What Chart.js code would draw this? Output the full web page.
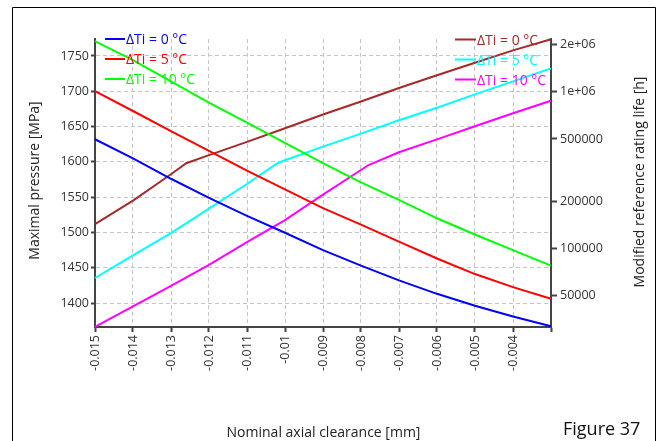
<!DOCTYPE html>
<html>
<head>
<meta charset="utf-8">
<script src="https://cdn.jsdelivr.net/npm/chart.js@4"></script>
<style>
  html, body { margin: 0; padding: 0; background: #fff; }
  #wrap { position: relative; width: 657px; height: 441px; }
</style>
</head>
<body>
<div id="wrap"><canvas id="canvasOne" width="657" height="441"></canvas></div>
<script>
// x values (nominal axial clearance, mm)
const clearance = [-0.015, -0.014, -0.013, -0.012, -0.011, -0.01, -0.009, -0.008, -0.007, -0.006, -0.005, -0.004, -0.003];

// maximal pressure [MPa], left axis
const pressure0 = [1632, 1605, 1576, 1549, 1523.5, 1499.5, 1475, 1453, 1432, 1413, 1396, 1381, 1367];
const pressure5 = [1700, 1672, 1643.5, 1615.5, 1587.5, 1561, 1534.5, 1511, 1487, 1463, 1441, 1422.5, 1406];
const pressure10 = [1771, 1744, 1714, 1684, 1655.5, 1627, 1598, 1571, 1546, 1520, 1497, 1475, 1453];

// modified reference rating life [h], right axis (log)
const life0X = [-0.015, -0.014, -0.013, -0.0126, -0.012, -0.011, -0.01, -0.009, -0.008, -0.007, -0.006, -0.005, -0.004, -0.003];
const life0 = [143000, 202000, 298000, 350000, 394000, 479000, 585000, 716000, 866000, 1057000, 1274000, 1531000, 1837000, 2160000];
const life5X = [-0.015, -0.014, -0.013, -0.012, -0.011, -0.0102, -0.01, -0.009, -0.008, -0.007, -0.006, -0.005, -0.004, -0.003];
const life5 = [64900, 90600, 125400, 179800, 258000, 350000, 365700, 446800, 540600, 657900, 791000, 963000, 1165000, 1409000];
const life10X = [-0.015, -0.014, -0.013, -0.012, -0.011, -0.01, -0.009, -0.008, -0.0078, -0.007, -0.006, -0.005, -0.004, -0.003];
const life10 = [31700, 42800, 57900, 78800, 110000, 152000, 221000, 317000, 341000, 411000, 496700, 602700, 729000, 877000];

const pressureTicks = [1400, 1450, 1500, 1550, 1600, 1650, 1700, 1750];
const lifeTicks = [50000, 100000, 200000, 500000, 1000000, 2000000];

const legendLeft = ['ΔTi = 0 °C', 'ΔTi = 5 °C', 'ΔTi = 10 °C'];
const legendRight = ['ΔTi = 0 °C', 'ΔTi = 5 °C', 'ΔTi = 10 °C'];

function pairs(xs, ys) {
  return xs.map(function(x, i) { return {x: x, y: ys[i]}; });
}

function lineSet(label, xs, ys, color, axis) {
  return {
    label: label,
    data: pairs(xs, ys),
    borderColor: color,
    backgroundColor: color,
    borderWidth: 2,
    pointRadius: 0,
    tension: 0,
    yAxisID: axis,
    clip: false
  };
}

const FONT = "'Open Sans', 'DejaVu Sans', sans-serif";

// titles, legends and the figure frame
const decor = {
  id: 'decor',
  afterDatasetsDraw(chart) {
    const ctx = chart.ctx;
    ctx.save();
    // outer frame
    ctx.strokeStyle = '#000';
    ctx.lineWidth = 1;
    ctx.beginPath();
    ctx.moveTo(12.5, 450);
    ctx.lineTo(12.5, 7.5);
    ctx.lineTo(655.5, 7.5);
    ctx.lineTo(655.5, 450);
    ctx.stroke();

    // legends
    const cols = chart.data.datasets.map(function(d) { return d.borderColor; });
    ctx.font = '14px ' + FONT;
    ctx.textBaseline = 'middle';
    ctx.textAlign = 'left';
    ctx.lineWidth = 2;
    legendLeft.forEach(function(t, i) {
      const y = 39 + i * 20;
      ctx.strokeStyle = cols[i];
      ctx.beginPath(); ctx.moveTo(105, y); ctx.lineTo(125, y); ctx.stroke();
      ctx.fillStyle = cols[i];
      ctx.fillText(t, 126, y + 1.5);
    });
    legendRight.forEach(function(t, i) {
      const y = 39.5 + i * 20;
      ctx.strokeStyle = cols[i + 3];
      ctx.beginPath(); ctx.moveTo(455, y); ctx.lineTo(476, y); ctx.stroke();
      ctx.fillStyle = cols[i + 3];
      ctx.fillText(t, 477, y + 1.5);
    });

    // axis titles
    ctx.fillStyle = '#222';
    ctx.font = '14px ' + FONT;
    ctx.textAlign = 'center';
    ctx.fillText('Nominal axial clearance [mm]', 323.5, 433);

    ctx.save();
    ctx.translate(35, 180.5);
    ctx.rotate(-Math.PI / 2);
    ctx.fillText('Maximal pressure [MPa]', 0, 0);
    ctx.restore();

    ctx.save();
    ctx.translate(640, 182);
    ctx.rotate(-Math.PI / 2);
    ctx.fillText('Modified reference rating life [h]', 0, 0);
    ctx.restore();

    ctx.font = '18px ' + FONT;
    ctx.textAlign = 'left';
    ctx.textBaseline = 'alphabetic';
    ctx.fillStyle = '#111';
    ctx.fillText('Figure 37', 563, 435);
    ctx.restore();
  }
};

const ctx = document.getElementById('canvasOne').getContext('2d');
const config = {
  type: 'line',
  data: {
    datasets: [
      lineSet('ΔTi = 0 °C', clearance, pressure0, '#0000ff', 'y'),
      lineSet('ΔTi = 5 °C', clearance, pressure5, '#ff0000', 'y'),
      lineSet('ΔTi = 10 °C', clearance, pressure10, '#00ff00', 'y'),
      lineSet('ΔTi = 0 °C', life0X, life0, '#a52a2a', 'y2'),
      lineSet('ΔTi = 5 °C', life5X, life5, '#00ffff', 'y2'),
      lineSet('ΔTi = 10 °C', life10X, life10, '#ff00ff', 'y2')
    ]
  },
  options: {
    responsive: false,
    animation: false,
    layout: { padding: { top: 39, left: 0, right: 0, bottom: 0 } },
    plugins: { legend: { display: false }, tooltip: { enabled: false } },
    scales: {
      x: {
        type: 'linear',
        min: -0.015,
        max: -0.003,
        afterFit: function(s) { s.height = 114; },
        ticks: {
          stepSize: 0.001,
          minRotation: 90,
          maxRotation: 90,
          padding: 3,
          color: '#333',
          font: { family: FONT, size: 12.5 },
          callback: function(v) {
            const r = parseFloat(Number(v).toFixed(4));
            if (r > -0.0035) return '';
            return String(r);
          }
        },
        grid: { color: '#c4c4c4', lineWidth: 1, tickLength: 5, tickColor: '#444', tickWidth: 2 },
        border: { color: '#444', width: 2, dash: [4, 3] }
      },
      y: {
        type: 'linear',
        position: 'left',
        min: 1366,
        max: 1774,
        afterFit: function(s) { s.width = 95; },
        afterBuildTicks: function(s) { s.ticks = pressureTicks.map(function(v) { return {value: v}; }); },
        ticks: {
          padding: 2,
          color: '#333',
          font: { family: FONT, size: 12.5 },
          callback: function(v) { return String(v); }
        },
        grid: { color: '#c4c4c4', lineWidth: 1, tickLength: 4, tickColor: '#444', tickWidth: 2 },
        border: { color: '#444', width: 2, dash: [4, 3] }
      },
      y2: {
        type: 'logarithmic',
        position: 'right',
        min: 31600,
        max: 2170000,
        afterFit: function(s) { s.width = 106; },
        afterBuildTicks: function(s) { s.ticks = lifeTicks.map(function(v) { return {value: v}; }); },
        ticks: {
          padding: 3,
          color: '#333',
          font: { family: FONT, size: 12.5 },
          callback: function(v) {
            if (v >= 1000000) return (v / 1000000) + 'e+06';
            return String(v);
          }
        },
        grid: { drawOnChartArea: false, tickLength: 6, tickColor: '#444', tickWidth: 2 },
        border: { color: '#444', width: 2 }
      }
    }
  },
  plugins: [decor]
};

const chart = new Chart(ctx, config);
</script>
</body>
</html>
